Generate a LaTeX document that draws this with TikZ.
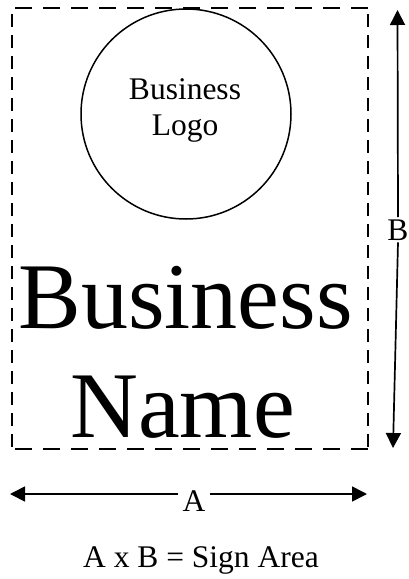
\documentclass[tikz,border=0pt]{standalone}
\usepackage{fontspec}
\setmainfont{Liberation Serif}
\usetikzlibrary{arrows.meta}
\tikzset{
  edgeh/.style={line width=1.7pt, dash pattern=on 17pt off 11pt},
  edgev/.style={line width=1.7pt, dash pattern=on 13pt off 8pt},
  dimarrow/.style={line width=1.7pt, -{Triangle[length=15pt,width=15pt]}},
  smalltxt/.style={font=\fontsize{31.5}{36}\selectfont, inner sep=0pt, anchor=base},
  bigtxt/.style={font=\fontsize{94}{100}\selectfont, inner sep=0pt, anchor=base},
}
\begin{document}
\begin{tikzpicture}[x=1pt,y=-1pt]
\useasboundingbox (0,0) rectangle (409,579);
% sign area (dashed rectangle)
\coordinate (tl) at (12,8);
\coordinate (tr) at (368,8);
\coordinate (bl) at (12,449);
\coordinate (br) at (368,449);
\draw[edgeh, dash phase=-3pt] (tl) -- (tr);
\draw[edgeh, dash phase=-3pt] (bl) -- (br);
\draw[edgev, dash phase=-6pt] (tl) -- (bl);
\draw[edgev, dash phase=-6pt] (tr) -- (br);
% logo
\node[draw, circle, line width=1.5pt, minimum size=210pt, inner sep=0pt] (logo) at (186,114) {};
\node[smalltxt] (logo1) at (185,99) {Business};
\node[smalltxt] (logo2) at (185,135) {Logo};
% business name
\node[bigtxt] (name1) at (185.5,328) {Business};
\node[bigtxt] (name2) at (182.5,437) {Name};
% B dimension
\node[font=\fontsize{31.5}{36}\selectfont, inner sep=2pt, anchor=base] (B) at (398,240) {B};
\coordinate (Btop) at (397.5,10);
\coordinate (Bbot) at (393,448);
\draw[dimarrow] (B.north) -- (Btop);
\draw[dimarrow] (B.south) -- (Bbot);
% A dimension
\node[font=\fontsize{31.5}{36}\selectfont, inner xsep=4pt, inner ysep=0pt, anchor=base] (A) at (194,511) {A};
\coordinate (Aleft) at (10,494);
\coordinate (Aright) at (367,494);
\draw[dimarrow] (A.west |- Aleft) -- (Aleft);
\draw[dimarrow] (A.east |- Aright) -- (Aright);
% formula
\node[smalltxt] (formula) at (201,567) {A x B = Sign Area};
\end{tikzpicture}
\end{document}
